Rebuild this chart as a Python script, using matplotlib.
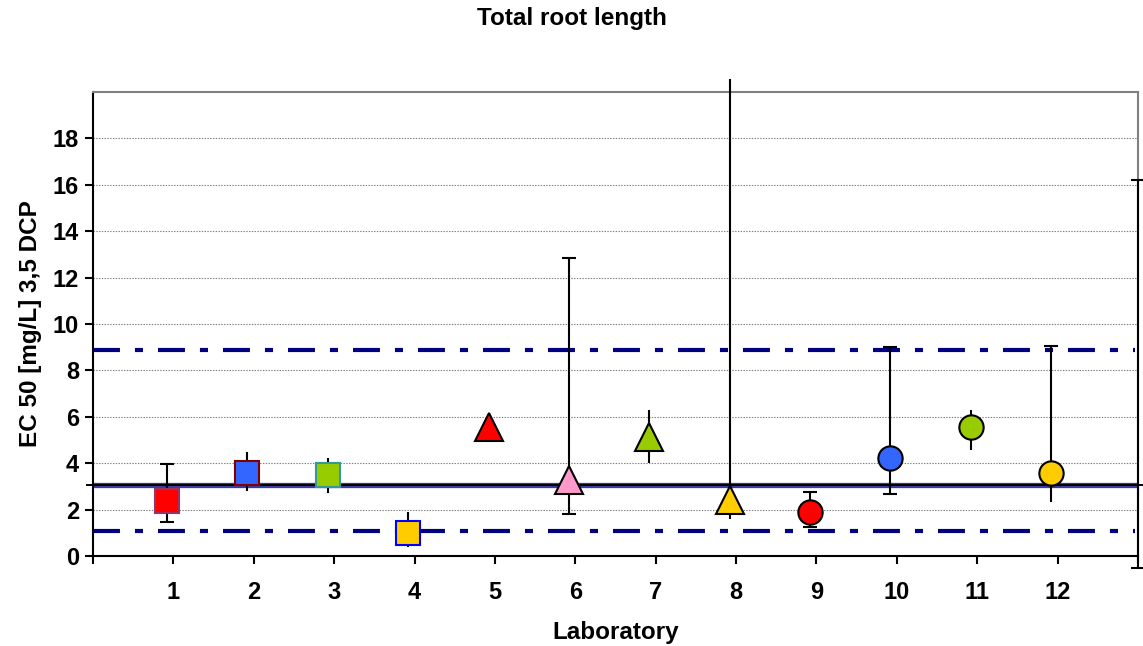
import matplotlib
matplotlib.use("Agg")
import matplotlib.pyplot as plt

plt.rcParams['font.family'] = ['Liberation Sans', 'DejaVu Sans']
plt.rcParams['font.weight'] = 'bold'
plt.rcParams['lines.scale_dashes'] = False

# data
labs = [1, 2, 3, 4, 5, 6, 7, 8, 9, 10, 11, 12]
ec50 = [2.36, 3.56, 3.48, 0.99, 5.56, 3.29, 5.13, 2.41, 1.89, 4.21, 5.54, 3.56]
ec50_hi = [3.95, 4.47, 4.21, 1.89, 5.56, 12.86, 6.31, 20.55, 2.75, 9.0, 6.31, 9.05]
ec50_lo = [1.46, 2.79, 2.71, 0.39, 5.56, 1.80, 4.0, 1.59, 1.25, 2.66, 4.55, 2.32]
cap_hi = [True, False, False, False, False, True, False, False, True, True, False, True]
cap_lo = [True, False, False, False, False, True, False, False, True, True, False, False]

mean_val = 3.07
limit_hi = 8.88
limit_lo = 1.07
# extra bar drawn at the right border
edge_x = 13
edge_hi = 16.2
edge_lo = -0.5

markers = ['s'] * 4 + ['^'] * 4 + ['o'] * 4
faces = ['#ff0000', '#3366ff', '#99cc00', '#ffcc00',
         '#ff0000', '#ff99cc', '#99cc00', '#ffcc00',
         '#ff0000', '#3366ff', '#99cc00', '#ffcc00']
edges = ['#993366', '#800000', '#339999', '#0000ff'] + ['black'] * 8
sizes = [17.5] * 4 + [20] * 4 + [17.5] * 4

fig = plt.figure(figsize=(11.43, 6.46), dpi=100)
ax = fig.add_axes([0.0814, 0.1393, 0.9142, 0.7183])
ax.set_xlim(0, 13)
ax.set_ylim(0, 20)

# grid
for g in range(2, 20, 2):
    ax.axhline(g, color='#808080', lw=0.8, ls=(0, (1, 1)), zorder=1)

# reference lines
dd = (0, (19.4, 10.8, 5.8, 10.8))
ax.axhline(limit_hi, color='#000080', lw=3, ls=dd, xmin=0, xmax=0.997, zorder=2)
ax.axhline(limit_lo, color='#000080', lw=3, ls=dd, xmin=0, xmax=0.997, zorder=2)
ax.axhline(mean_val, color='#3a3aa0', lw=3.8, zorder=2)
ax.plot([-0.07, 13.08], [mean_val, mean_val], color='black', lw=1.4,
        clip_on=False, zorder=2.5)

off = -0.08
for i, lab in enumerate(labs):
    x = lab + off
    y = ec50[i]
    ax.errorbar([x], [y], yerr=[[y - ec50_lo[i]], [0]], fmt='none', ecolor='black',
                elinewidth=1.5, capsize=5 if cap_lo[i] else 0, capthick=1.5,
                zorder=3, clip_on=False)
    ax.errorbar([x], [y], yerr=[[0], [ec50_hi[i] - y]], fmt='none', ecolor='black',
                elinewidth=1.5, capsize=5 if cap_hi[i] else 0, capthick=1.5,
                zorder=3, clip_on=False)
    ax.plot([x], [y], marker=markers[i], ms=sizes[i], mfc=faces[i], mec=edges[i],
            mew=1.5, ls='none', zorder=4)

ax.errorbar([edge_x], [mean_val], yerr=[[mean_val - edge_lo], [edge_hi - mean_val]],
            fmt='none', ecolor='black', elinewidth=1.5, capsize=5, capthick=1.5,
            zorder=3, clip_on=False)

# spines
for s in ['top', 'right']:
    ax.spines[s].set_color('#808080')
    ax.spines[s].set_linewidth(1.5)
for s in ['left', 'bottom']:
    ax.spines[s].set_color('black')
    ax.spines[s].set_linewidth(1.5)

ax.set_yticks(range(0, 20, 2))
ax.set_xticks(range(0, 14))
ax.set_xticklabels([''] + [str(l) for l in labs] + [''])
ax.tick_params(axis='both', direction='out', length=6, width=1.5, labelsize=17, pad=4)
ax.tick_params(axis='x', pad=12)

ax.set_xlabel('Laboratory', fontsize=17.5, fontweight='bold', labelpad=12)
ax.set_ylabel('EC 50 [mg/L] 3,5 DCP', fontsize=17.5, fontweight='bold', labelpad=8)
fig.text(0.5, 0.972, 'Total root length', ha='center', va='center',
         fontsize=17.5, fontweight='bold')

fig.savefig('out.png', dpi=100)
